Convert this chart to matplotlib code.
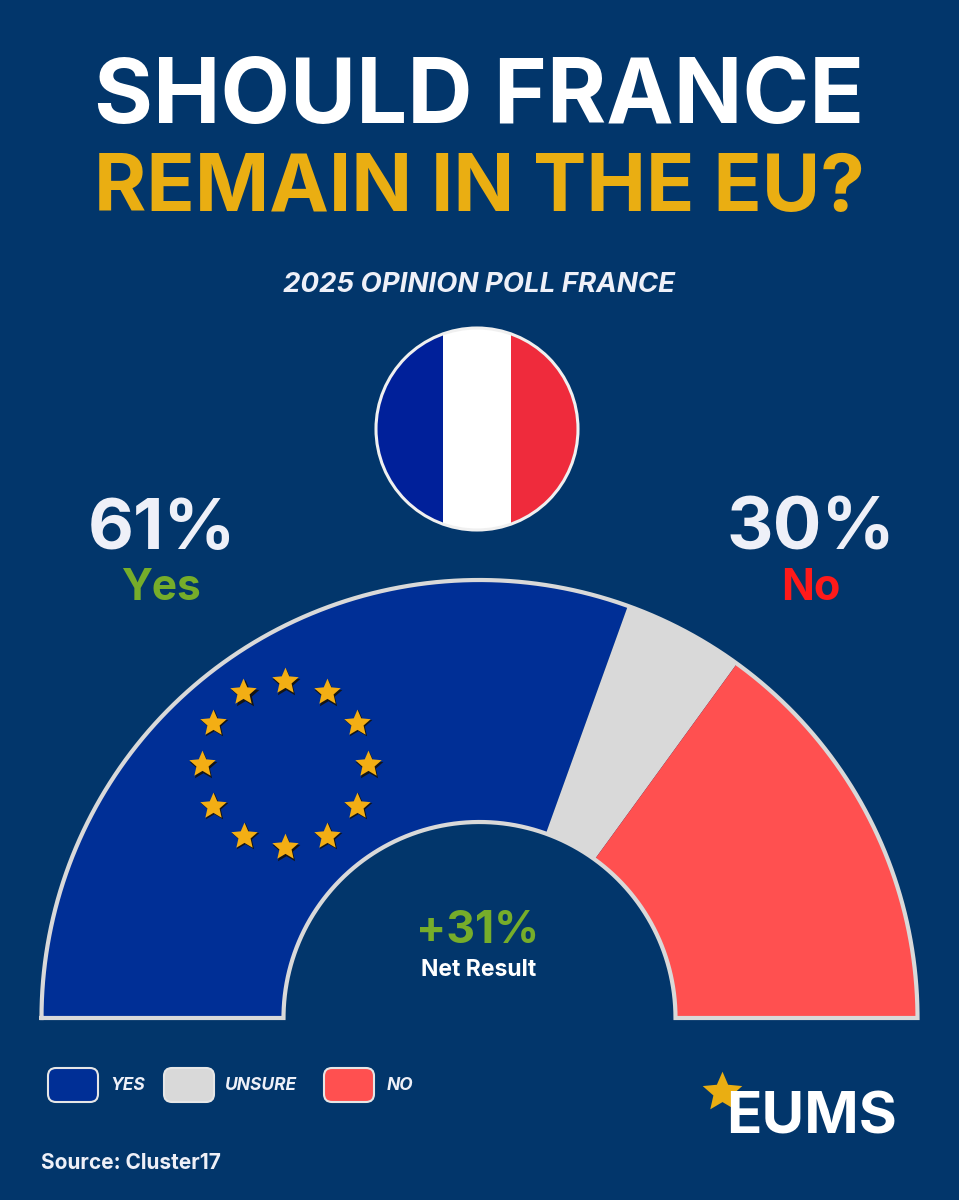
import matplotlib
matplotlib.use("Agg")
import matplotlib.pyplot as plt
from matplotlib.patches import Wedge, Circle, FancyBboxPatch, Rectangle
from matplotlib.path import Path
import numpy as np

W, H = 959, 1200
BG = "#02366b"

# values
shares = [61, 9, 30]
share_colors = ["#002f96", "#d9d9d9", "#ff5050"]
legend_labels = ["YES", "UNSURE", "NO"]
flag_colors = ["#00209a", "#ffffff", "#ef2b3c"]
yes_pct = "61%"
no_pct = "30%"
net = "+31%"
stars_n = 12

fam = ["Inter", "Open Sans", "DejaVu Sans"]
plt.rcParams['font.family'] = fam

fig = plt.figure(figsize=(W / 100, H / 100), dpi=100, facecolor=BG)
ax = fig.add_axes([0, 0, 1, 1])
ax.set_xlim(0, W)
ax.set_ylim(H, 0)
ax.set_aspect("equal")
ax.axis("off")

star = Path.unit_regular_star(5, innerCircle=0.46)

ax.text(479, 99, "SHOULD FRANCE", color="white", fontsize=65, fontweight="bold", ha="center", va="center")
ax.text(479, 190, "REMAIN IN THE EU?", color="#eaae12", fontsize=57.5, fontweight="bold", ha="center", va="center")
ax.text(479, 285, "2025 OPINION POLL FRANCE", color="#eef0f8", fontsize=19.9, fontweight="bold", style="italic", ha="center", va="center")

# flag
cx, cy, r = 477, 429, 101
clip = Circle((cx, cy), r, transform=ax.transData)
for i, c in enumerate(flag_colors):
    rect = Rectangle((cx - r + i * 2 * r / 3, cy - r), 2 * r / 3, 2 * r, color=c, lw=0)
    ax.add_patch(rect)
    rect.set_clip_path(clip)
ax.add_patch(Circle((cx, cy), r, fill=False, ec="#f0f0f0", lw=2.2))

ax.text(162, 531, yes_pct, color="#eef0f8", fontsize=51, fontweight="bold", ha="center", va="center")
ax.text(161, 589, "Yes", color="#76ad2a", fontsize=30.5, fontweight="bold", ha="center", va="center")
ax.text(811, 531, no_pct, color="#eef0f8", fontsize=52, fontweight="bold", ha="center", va="center")
ax.text(811, 589, "No", color="#ff1a1a", fontsize=31, fontweight="bold", ha="center", va="center")

# gauge, y axis is inverted so angles get flipped
gx, gy, R_out, R_in = 479.5, 1018, 438, 196
total = sum(shares)
a0 = 0
for v, c in zip(shares, share_colors):
    a1 = a0 + 180 * v / total
    ax.add_patch(Wedge((gx, gy), R_out, 180 + a0, 180 + a1, width=R_out - R_in, fc=c, ec="none"))
    a0 = a1
t = np.linspace(np.pi, 2 * np.pi, 300)
xs = np.r_[gx + R_out * np.cos(t), gx + R_in * np.cos(t[::-1]), gx + R_out * np.cos(t[0])]
ys = np.r_[gy + R_out * np.sin(t), gy + R_in * np.sin(t[::-1]), gy + R_out * np.sin(t[0])]
ax.plot(xs, ys, color="#d9d9d9", lw=3, solid_joinstyle="miter")

# eu stars
sx, sy, sr = 285, 764, 83
for i in range(stars_n):
    ang = np.radians(i * 360 / stars_n)
    px, py = sx + sr * np.sin(ang), sy - sr * np.cos(ang)
    ax.plot(px + 1.2, py + 1.5, marker=star, ms=21, color="#141414", mew=0)
    ax.plot(px, py, marker=star, ms=20, color="#f3ae14", mew=0)

ax.text(478, 931, net, color="#76ad2a", fontsize=32, fontweight="bold", ha="center", va="center")
ax.text(479, 970, "Net Result", color="white", fontsize=16.5, fontweight="bold", ha="center", va="center")

# legend
for x, c, lab, tx in zip([48, 164, 324], share_colors, legend_labels, [110, 224, 387]):
    ax.add_patch(FancyBboxPatch((x + 8, 1068 + 8), 50 - 16, 34 - 16, boxstyle="round,pad=8", fc=c, ec="#e6e6e6", lw=1.5))
    ax.text(tx, 1086, lab, color="#eef0f8", fontsize=12.5, fontweight="bold", style="italic", ha="left", va="center")

ax.text(41, 1163, "Source: Cluster17", color="#eef0f8", fontsize=15, fontweight="bold", ha="left", va="center")

# logo
ax.plot(722, 1092, marker=star, ms=30, color="#eaae12", mew=0, zorder=1)
ax.text(897, 1118, "EUMS", color="white", fontsize=42, fontweight="bold", ha="right", va="center", zorder=2)

fig.savefig("out.png", dpi=100, facecolor=BG)
